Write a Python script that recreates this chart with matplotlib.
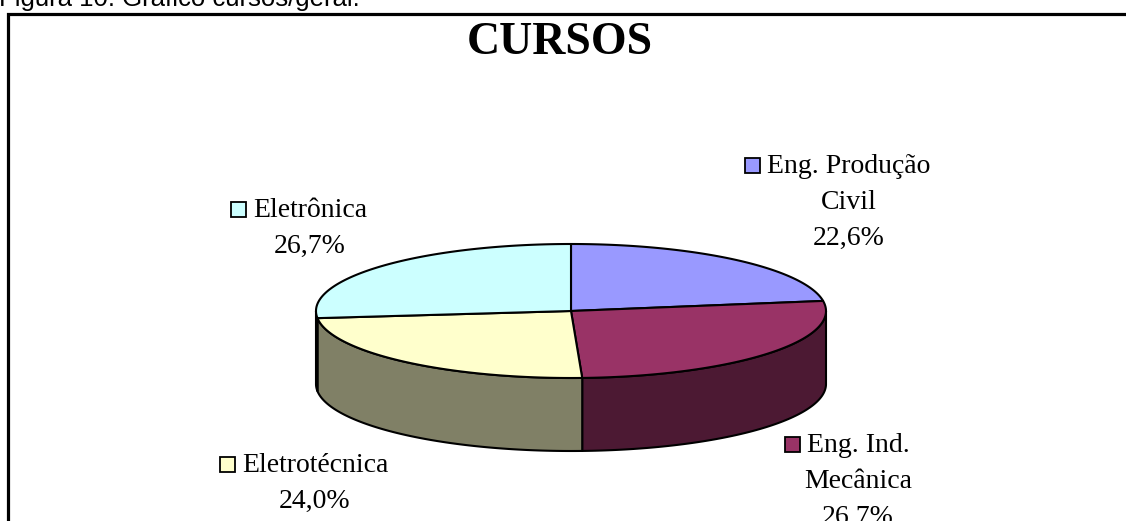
import numpy as np
import matplotlib.pyplot as plt
from matplotlib.patches import Polygon, Rectangle

# data
cursos = ['Eng. Produção\nCivil', 'Eng. Ind.\nMecânica', 'Eletrotécnica', 'Eletrônica']
valores = [22.6, 26.7, 24.0, 26.7]
cores_topo = ['#9999FF', '#993366', '#FFFFCC', '#CCFFFF']
cores_lado = ['#4D4D80', '#4C1933', '#808066', '#668080']

# layout of the labels (center x, first baseline y) in pixels
label_x = [849, 858, 315, 310]
label_y = [173, 452, 472, 217]
line_step = 36

# pie geometry (pixels)
cx, cy = 571, 311
a, b = 255, 67
depth = 73

W, H = 1126, 521
fig = plt.figure(figsize=(W / 100, H / 100), dpi=100)
ax = fig.add_axes([0, 0, 1, 1])
ax.set_xlim(0, W)
ax.set_ylim(H, 0)
ax.axis('off')


def ellipse_pts(t0, t1, dy=0.0, n=120):
    t = np.radians(np.linspace(t0, t1, n))
    return np.column_stack([cx + a * np.sin(t), cy - b * np.cos(t) + dy])


# angles clockwise from 12 o'clock
fracs = np.array(valores) / sum(valores)
bounds = np.concatenate([[0], np.cumsum(fracs) * 360])

# side walls (front half only: 90..270)
for i in range(len(valores)):
    t0 = max(bounds[i], 90)
    t1 = min(bounds[i + 1], 270)
    if t1 <= t0:
        continue
    top = ellipse_pts(t0, t1)
    bot = ellipse_pts(t0, t1, dy=depth)[::-1]
    ax.add_patch(Polygon(np.vstack([top, bot]), closed=True,
                         facecolor=cores_lado[i], edgecolor='black', lw=1.5,
                         joinstyle='round'))

# top face
for i in range(len(valores)):
    arc = ellipse_pts(bounds[i], bounds[i + 1])
    pts = np.vstack([[cx, cy], arc])
    ax.add_patch(Polygon(pts, closed=True, facecolor=cores_topo[i],
                         edgecolor='black', lw=1.5, joinstyle='round'))

# caption and frame
ax.text(-1, 6, 'Figura 10: Gráfico cursos/geral.', fontsize=18.5,
        family='Liberation Sans', ha='left', va='baseline')
ax.plot([8, 8, W + 5], [H + 5, 14, 14], color='black', lw=2.3,
        solid_joinstyle='miter')

ax.text(560, 54, 'CURSOS', fontsize=33, fontweight='bold',
        family='Liberation Serif', ha='center', va='baseline')

# labels
first_lines = []
for i, nome in enumerate(cursos):
    pct = f'{valores[i]:.1f}'.replace('.', ',') + '%'
    linhas = nome.split('\n') + [pct]
    for j, ln in enumerate(linhas):
        t = ax.text(label_x[i], label_y[i] + j * line_step, ln, fontsize=20,
                    family='Liberation Serif', ha='center', va='baseline')
        if j == 0:
            first_lines.append(t)

fig.canvas.draw()
renderer = fig.canvas.get_renderer()
inv = ax.transData.inverted()
for i, t in enumerate(first_lines):
    bb = t.get_window_extent(renderer)
    x0, _ = inv.transform((bb.x0, bb.y0))
    size = 15
    ax.add_patch(Rectangle((x0 - 7 - size, label_y[i] - size), size, size,
                           facecolor=cores_topo[i], edgecolor='black', lw=1.3))

fig.savefig('out.png', dpi=100)
